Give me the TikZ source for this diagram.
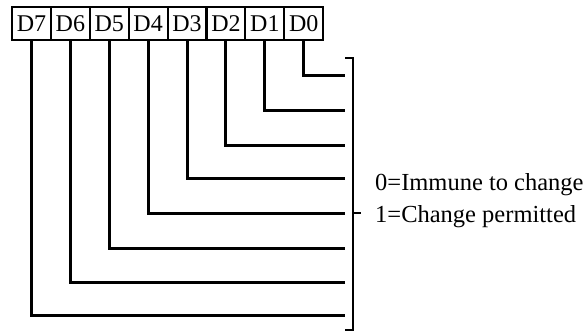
\documentclass[tikz,border=0pt]{standalone}
\usepackage{fontspec}
\setmainfont{Liberation Serif}
\usetikzlibrary{calc}
\tikzset{
  bitbox/.style={draw,line width=2pt,minimum width=39pt,minimum height=33pt,inner sep=0pt,font=\fontsize{24}{26}\selectfont},
  bitline/.style={line width=3pt},
  notetext/.style={anchor=base west,inner sep=0pt,font=\fontsize{24.5}{26}\selectfont}
}
\begin{document}
\begin{tikzpicture}[x=1pt,y=-1pt]
\useasboundingbox (0,0) rectangle (586,333);
% register bits
\foreach \i in {7,...,0}{
  \node[bitbox] (b\i) at ({12+38.9*(7-\i+0.5)},23.5) {D\i};
}
% ends of the lines
\foreach \i/\y in {0/75,1/110,2/145,3/178,4/213,5/248,6/282,7/315}{
  \coordinate (e\i) at (345,\y);
  \draw[bitline] (b\i.south) |- (e\i);
}
% bracket
\coordinate (bt) at (345,58);
\coordinate (bb) at (345,330);
\draw[line width=2.6pt] (bt) -- ++(8,0) |- (bb);
\coordinate (bm) at (353,213);
\draw[line width=1.6pt] (bm) -- ++(8,0);
\node[notetext] (zero) at (375,190) {0=Immune to change};
\node[notetext] (one) at (375,222) {1=Change permitted};
\end{tikzpicture}
\end{document}
